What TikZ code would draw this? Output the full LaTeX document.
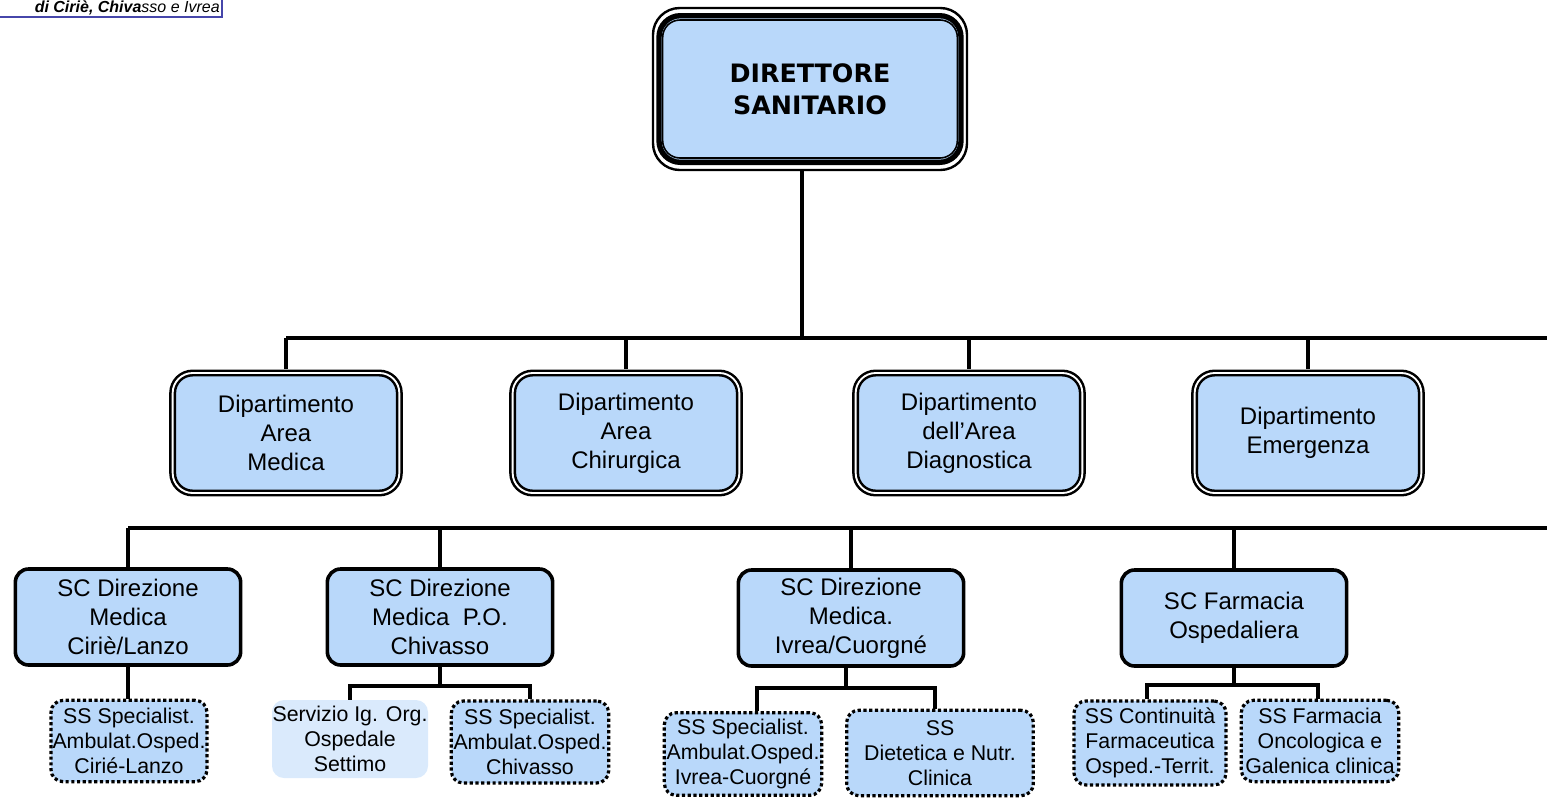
\documentclass[tikz,border=0pt]{standalone}
\usepackage{fontspec}
\setmainfont{Liberation Sans}
\newfontfamily\dirfont{DejaVu Sans}
\usepackage{xcolor}
\usepackage{tikz}
\definecolor{boxblue}{RGB}{185,216,250}
\definecolor{paleblue}{RGB}{218,234,252}
\definecolor{headblue}{RGB}{70,70,170}

\begin{document}
\begin{tikzpicture}[x=0.75pt,y=-0.75pt,
  conn/.style={line width=2.4pt},
  dirframe/.style={draw,rounded corners=20pt,line width=1.8pt},
  dirbox/.style={draw,rounded corners=13pt,line width=1.2pt,fill=boxblue,align=center,
    minimum width=221pt,minimum height=103.5pt,font=\dirfont\bfseries\fontsize{19}{24}\selectfont},
  deptbox/.style={draw,line width=1.9pt,double=white,double distance=1.4pt,rounded corners=15pt,
    fill=boxblue,align=center,minimum width=170pt,minimum height=90pt,
    font=\fontsize{18}{21.75}\selectfont},
  scbox/.style={draw,line width=2.7pt,rounded corners=10pt,fill=boxblue,align=center,
    minimum width=169pt,minimum height=72pt,font=\fontsize{18}{21.75}\selectfont},
  ssbox/.style={draw,line width=2.4pt,dash pattern=on 2.4pt off 1.9pt,rounded corners=9pt,
    fill=boxblue,align=center,inner sep=1pt,font=\fontsize{16}{19}\selectfont},
  servbox/.style={fill=paleblue,rounded corners=9pt,align=center,inner sep=0pt,
    font=\fontsize{16}{19}\selectfont}]
\useasboundingbox (0,0) rectangle (1547,797);

\draw[headblue,line width=1.2pt] (0,17) -- (222,17) -- (222,0);
\node (head) at (220,8) [anchor=east,inner sep=0pt,font=\fontsize{12}{12}\selectfont]
  {\textbf{\textit{di Ciriè, Chiva}}\textit{sso e Ivrea}};

\node (dirout) at (810,89) [dirframe,minimum width=235.5pt,minimum height=121.5pt] {};
\node (dirmid) at (810,89) [dirframe,line width=4pt,rounded corners=16pt,fill=boxblue,
  minimum width=226.5pt,minimum height=110pt] {};
\node (dir) at (810,89) [dirbox] {DIRETTORE\\SANITARIO};

\node (d1) at (286,433) [deptbox] {Dipartimento\\Area\\Medica};
\node (d2) at (626,433) [deptbox] {Dipartimento\\Area\\Chirurgica};
\node (d3) at (969,433) [deptbox] {Dipartimento\\dell’Area\\Diagnostica};
\node (d4) at (1308,433) [deptbox] {Dipartimento\\Emergenza};

\node (s1) at (128,617) [scbox] {SC Direzione\\Medica\\Ciriè/Lanzo};
\node (s2) at (440,617) [scbox] {SC Direzione\\Medica~~P.O.\\Chivasso};
\node (s3) at (851,618) [scbox] {SC Direzione\\Medica.\\Ivrea/Cuorgné};
\node (s4) at (1234,618) [scbox] {SC Farmacia\\Ospedaliera};

\node (ss1) at (129,741) [ssbox,minimum width=117pt,minimum height=61pt] {SS Specialist.\\Ambulat.Osped.\\Cirié-Lanzo};
\node (sv) at (350,739) [servbox,minimum width=117pt,minimum height=58.5pt] {Servizio Ig. Org.\\Ospedale\\Settimo};
\node (ss2) at (530,742) [ssbox,minimum width=118pt,minimum height=61.5pt] {SS Specialist.\\Ambulat.Osped.\\Chivasso};
\node (ss3) at (743,754) [ssbox,minimum width=118pt,minimum height=62pt] {SS Specialist.\\Ambulat.Osped.\\Ivrea-Cuorgné};
\node (ss4) at (940,753) [ssbox,minimum width=140pt,minimum height=64pt] {SS\\Dietetica e Nutr.\\Clinica};
\node (ss5) at (1150,743) [ssbox,minimum width=114pt,minimum height=63pt] {SS Continuità\\Farmaceutica\\Osped.-Territ.};
\node (ss6) at (1320,741) [ssbox,minimum width=118pt,minimum height=61pt] {SS Farmacia\\Oncologica e\\Galenica clinica};

\coordinate (b1) at (802,338);
\coordinate (e1) at (1547,338);
\coordinate (e2) at (1547,528);
\coordinate (k2) at (440,686);
\coordinate (k3) at (846,688);
\coordinate (k4) at (1234,685);

\draw[conn] (dirout.south -| b1) -- (b1);
\draw[conn] (d1.north |- e1) -- (e1);
\foreach \n in {d1,d2,d3,d4}
  \draw[conn] ([yshift=2.4pt]\n.north) -- (\n.north |- e1);
\draw[conn] (s1.north |- e2) -- (e2);
\foreach \n in {s1,s2,s3,s4}
  \draw[conn] (\n.north) -- (\n.north |- e2);

\draw[conn] (s1.south) -- (s1.south |- ss1.north);
\draw[conn] (s2.south) -- (k2);
\draw[conn] (sv.north) |- (k2) -| (ss2.north);
\draw[conn] (s3.south -| k3) -- (k3);
\draw[conn] (757,0 |- ss3.north) |- (k3) -| (935,0 |- ss4.north);
\draw[conn] (s4.south) -- (k4);
\draw[conn] (1147,0 |- ss5.north) |- (k4) -| (1318,0 |- ss6.north);
\end{tikzpicture}
\end{document}
